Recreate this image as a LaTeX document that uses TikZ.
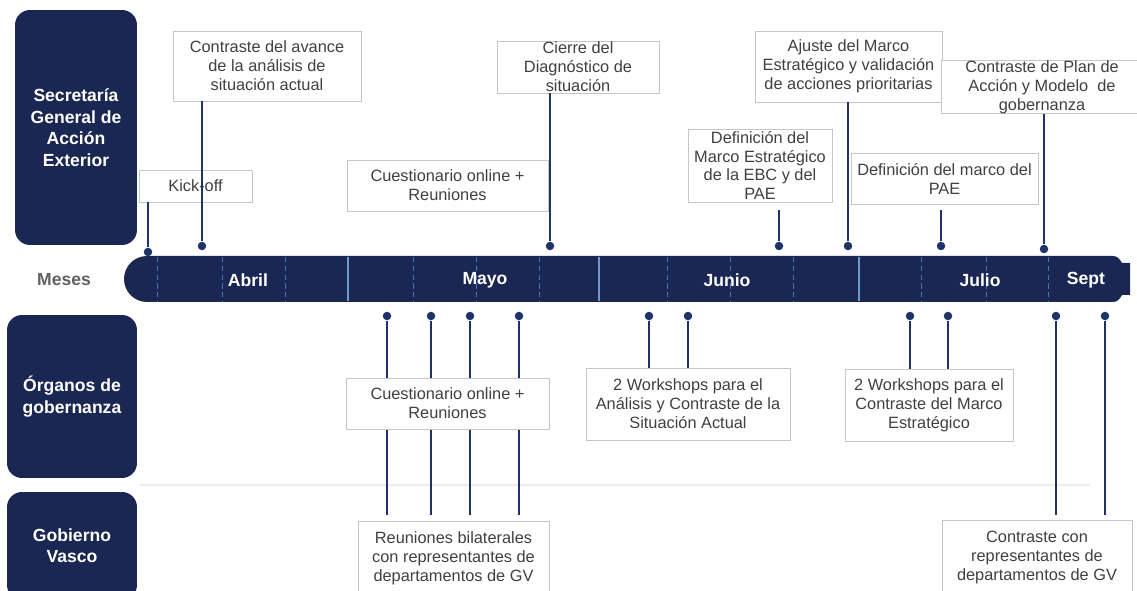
\documentclass[tikz,border=0pt]{standalone}
\usepackage{fontspec}
\setmainfont{Liberation Sans}
\usetikzlibrary{positioning}

\definecolor{navy}{RGB}{26,39,82}
\definecolor{stemblue}{RGB}{30,52,104}
\definecolor{weekblue}{RGB}{62,122,190}

\begin{document}
\begin{tikzpicture}[x=0.02cm, y=-0.02cm,
    rowbox/.style={fill=navy, rounded corners=0.3cm, text=white, align=center,
      font=\fontsize{10}{12.2}\selectfont\bfseries, inner sep=0pt},
    evbox/.style={draw=gray!45, line width=0.5pt, fill=white, align=center,
      text=black!75, font=\fontsize{9.3}{10.8}\selectfont, inner sep=1pt},
    stem/.style={draw=stemblue, line width=1.6pt},
    pin/.style={circle, fill=stemblue, inner sep=0pt, minimum size=0.17cm},
    month/.style={text=white, font=\fontsize{10}{12}\selectfont\bfseries}]
  \useasboundingbox (0,0) rectangle (1137,591);
  \clip (0,0) rectangle (1137,591);

  % row labels
  \node[rowbox, minimum width=2.44cm, minimum height=4.70cm] (sgae) at (76,127.5)
    {Secretaría\\General de\\Acción\\Exterior};
  \node[rowbox, minimum width=2.60cm, minimum height=3.26cm] (organos) at (72,396.5)
    {Órganos de\\gobernanza};
  \node[rowbox, minimum width=2.60cm, minimum height=2.16cm] (gobierno) at (72,546)
    {Gobierno\\Vasco};
  \node[text=black!62, font=\fontsize{10}{12}\selectfont\bfseries] (meses) at (64,280) {Meses};

  % separator
  \coordinate (sepL) at (140,485);
  \coordinate (sepR) at (1090,485);
  \draw[gray!15, line width=0.8pt] (sepL) -- (sepR);

  % month bar
  \fill[navy] (147,256) -- (1113,256) to[out=0,in=120] (1122,263) -- (1130,263)
    -- (1130,295) -- (1122,295) to[out=-120,in=0] (1113,302) -- (147,302)
    arc[start angle=90, end angle=270, radius=23] -- cycle;
  \foreach \x in {157,222,285,413,476,539,667,730,793,921,986,1048}
    \draw[weekblue, densely dashed, line width=0.5pt] (\x,257) -- (\x,301);
  \foreach \x in {348,599,859}
    \draw[weekblue!75!white, line width=0.7pt] (\x,257) -- (\x,301);
  \foreach \m/\x in {Abril/248, Mayo/485, Junio/727, Julio/980, Sept/1086}
    \node[month] (m-\m) at (\x,280) {\m};

  % pins
  \foreach \n/\x/\y in {k/148/252, a/202/246, c/550/246, e/779/246, j/848/246, p/941/246, g/1044/249}
    \node[pin] (top-\n) at (\x,\y) {};
  \foreach \n/\x in {q1/387, q2/431, q3/470, q4/519, w1/649, w2/688, w3/910, w4/948, r1/1056, r2/1105}
    \node[pin] (bot-\n) at (\x,316) {};

  % events above
  \node[evbox, minimum width=2.26cm, minimum height=0.64cm] (kickoff) at (195.5,186) {Kick-off};
  \node[evbox, minimum width=3.76cm, minimum height=1.40cm] (avance) at (267,66)
    {Contraste del avance\\de la análisis de\\situación actual};
  \node[evbox, minimum width=4.02cm, minimum height=1.02cm] (cuest) at (447.5,185.5)
    {Cuestionario online +\\Reuniones};
  \node[evbox, minimum width=3.24cm, minimum height=1.04cm, inner sep=0pt] (cierre) at (578,67)
    {Cierre del\\Diagnóstico de\\situación};
  \node[evbox, minimum width=2.88cm, minimum height=1.46cm, inner sep=0pt] (defebc) at (760,165.5)
    {Definición del\\Marco Estratégico\\de la EBC y del\\PAE};
  \node[evbox, minimum width=3.74cm, minimum height=1.42cm] (ajuste) at (848.5,66.5)
    {Ajuste del Marco\\Estratégico y validación\\de acciones prioritarias};
  \node[evbox, minimum width=3.74cm, minimum height=1.02cm] (defpae) at (944.5,178.5)
    {Definición del marco del\\PAE};
  \node[evbox, minimum width=4.04cm, minimum height=1.04cm, inner sep=0pt] (plan) at (1042,87)
    {Contraste de Plan de\\Acción y Modelo~ de\\gobernanza};

  \draw[stem] (top-k) -- (top-k |- kickoff.south);
  \draw[stem] (top-a) -- (top-a |- avance.south);
  \draw[stem] (top-c) -- (top-c |- cierre.south);
  \draw[stem, shorten >=0.16cm] (top-e) -- (top-e |- defebc.south);
  \draw[stem] (top-j) -- (top-j |- ajuste.south);
  \draw[stem, shorten >=0.12cm] (top-p) -- (top-p |- defpae.south);
  \draw[stem] (top-g) -- (top-g |- plan.south);

  % events below
  \node[evbox, minimum width=3.82cm, minimum height=1.48cm] (bilat) at (453.5,558)
    {Reuniones bilaterales\\con representantes de\\departamentos de GV};
  \node[evbox, minimum width=3.80cm, minimum height=1.50cm] (contr) at (1037,557.5)
    {Contraste con\\representantes de\\departamentos de GV};
  \node[evbox, minimum width=4.08cm, minimum height=1.44cm] (ws1) at (688,404)
    {2 Workshops para el\\Análisis y Contraste de la\\Situación Actual};
  \node[evbox, minimum width=3.36cm, minimum height=1.44cm] (ws2) at (929,405)
    {2 Workshops para el\\Contraste del Marco\\Estratégico};

  \foreach \n in {q1,q2,q3,q4,r1,r2}
    \draw[stem, shorten >=0.12cm] (bot-\n) -- (bot-\n |- bilat.north);
  \draw[stem] (bot-w1) -- (bot-w1 |- ws1.north);
  \draw[stem] (bot-w2) -- (bot-w2 |- ws1.north);
  \draw[stem] (bot-w3) -- (bot-w3 |- ws2.north);
  \draw[stem] (bot-w4) -- (bot-w4 |- ws2.north);

  \node[evbox, minimum width=4.06cm, minimum height=1.02cm] (cuest2) at (447.5,403.5)
    {Cuestionario online +\\Reuniones};
\end{tikzpicture}
\end{document}
